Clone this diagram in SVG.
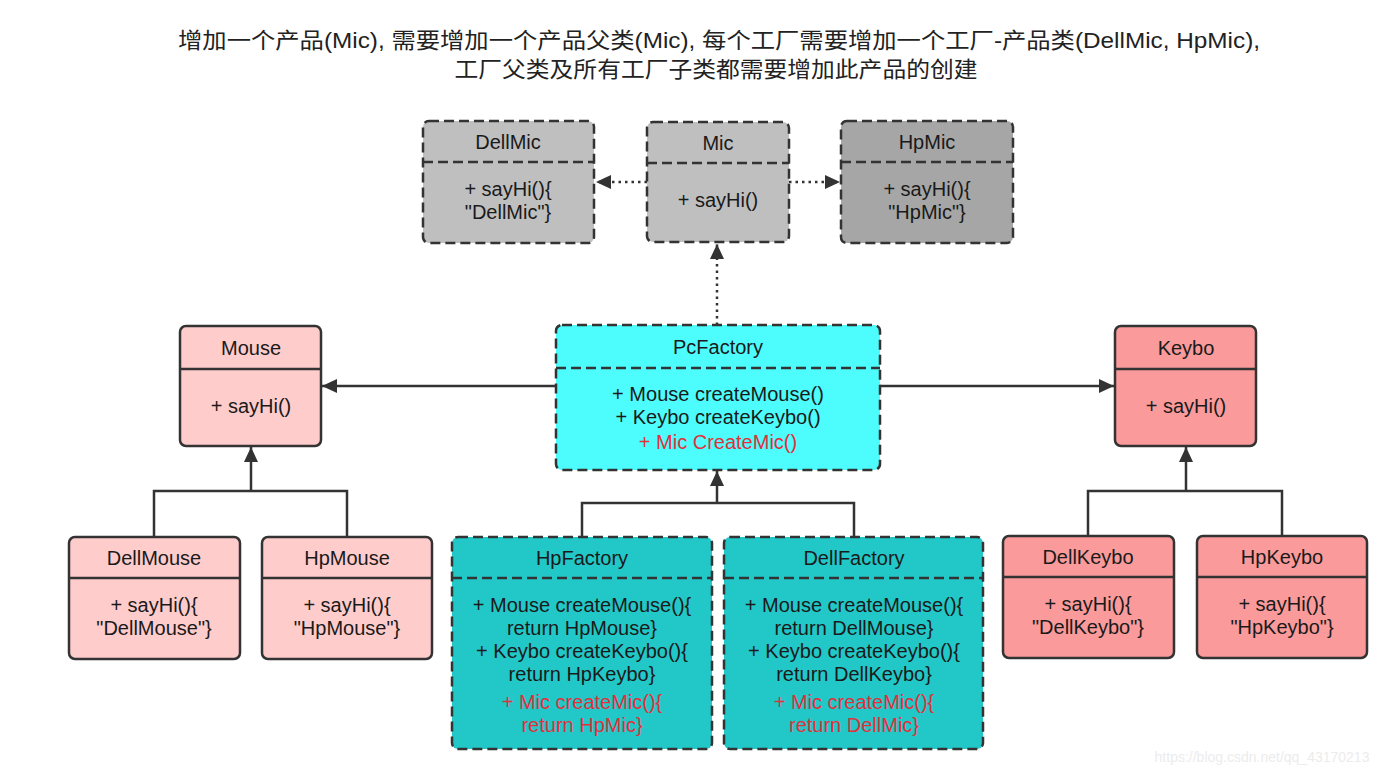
<svg xmlns="http://www.w3.org/2000/svg" width="1400" height="778" viewBox="0 0 1400 778">
<style>
text{font-family:"Liberation Sans","Noto Sans CJK SC",Arial,sans-serif;font-size:20px;fill:#1a1a1a;text-anchor:middle}
.title{font-size:22px;fill:#222}
.red{fill:#e0303b}
.box{stroke:#333;stroke-width:2.5}
.dash{stroke-dasharray:10 5}
.div{stroke:#333;stroke-width:2.5;fill:none}
.con{stroke:#333;stroke-width:2.5;fill:none}
.dot{stroke-dasharray:2.5 4}
.wm{font-size:14px;fill:#ececec}
</style>
<defs>
<marker id="tri" markerUnits="userSpaceOnUse" markerWidth="16" markerHeight="14" refX="15" refY="7" orient="auto">
<path d="M0,0 L15,7 L0,14 z" fill="#333"/>
</marker>
</defs>
<rect width="1400" height="778" fill="#fff"/>
<text class="title" x="719" y="48" textLength="1082" lengthAdjust="spacingAndGlyphs">增加一个产品(Mic), 需要增加一个产品父类(Mic), 每个工厂需要增加一个工厂-产品类(DellMic, HpMic),</text>
<text class="title" x="716" y="77" textLength="523" lengthAdjust="spacingAndGlyphs">工厂父类及所有工厂子类都需要增加此产品的创建</text>

<g id="connectors">
<line class="con dot" x1="647" y1="182" x2="596" y2="182" marker-end="url(#tri)"/>
<line class="con dot" x1="789" y1="182" x2="840" y2="182" marker-end="url(#tri)"/>
<line class="con dot" x1="717" y1="325" x2="717" y2="244" marker-end="url(#tri)"/>
<line class="con" x1="556" y1="386" x2="322" y2="386" marker-end="url(#tri)"/>
<line class="con" x1="880" y1="386" x2="1114" y2="386" marker-end="url(#tri)"/>
<polyline class="con" points="154,537 154,491 347,491 347,537"/>
<line class="con" x1="251" y1="491" x2="251" y2="447" marker-end="url(#tri)"/>
<polyline class="con" points="582,537 582,503 854,503 854,537"/>
<line class="con" x1="717" y1="503" x2="717" y2="471" marker-end="url(#tri)"/>
<polyline class="con" points="1088,536 1088,491 1282,491 1282,536"/>
<line class="con" x1="1186" y1="491" x2="1186" y2="447" marker-end="url(#tri)"/>
</g>

<g id="DellMic">
<rect class="box dash" x="423" y="121" width="171" height="122" rx="6" fill="#bfbfbf"/>
<line class="div dash" x1="423" y1="162" x2="594" y2="162"/>
<text x="508" y="149">DellMic</text>
<text x="508" y="196">+ sayHi(){</text>
<text x="508" y="219">"DellMic"}</text>
</g>
<g id="Mic">
<rect class="box dash" x="647" y="122" width="142" height="120" rx="6" fill="#bfbfbf"/>
<line class="div dash" x1="647" y1="163" x2="789" y2="163"/>
<text x="718" y="150">Mic</text>
<text x="718" y="207">+ sayHi()</text>
</g>
<g id="HpMic">
<rect class="box dash" x="841" y="121" width="172" height="122" rx="6" fill="#a6a6a6"/>
<line class="div dash" x1="841" y1="162" x2="1013" y2="162"/>
<text x="927" y="149">HpMic</text>
<text x="927" y="196">+ sayHi(){</text>
<text x="927" y="219">"HpMic"}</text>
</g>

<g id="PcFactory">
<rect class="box dash" x="556" y="325" width="324" height="145" rx="6" fill="#4dfcfc"/>
<line class="div dash" x1="556" y1="368" x2="880" y2="368"/>
<text x="718" y="354">PcFactory</text>
<text x="718" y="401">+ Mouse createMouse()</text>
<text x="718" y="424">+ Keybo createKeybo()</text>
<text class="red" x="718" y="449">+ Mic CreateMic()</text>
</g>

<g id="Mouse">
<rect class="box" x="180" y="326" width="141" height="120" rx="6" fill="#ffcccc"/>
<line class="div" x1="180" y1="369" x2="321" y2="369"/>
<text x="251" y="355">Mouse</text>
<text x="251" y="413">+ sayHi()</text>
</g>
<g id="Keybo">
<rect class="box" x="1115" y="326" width="141" height="120" rx="6" fill="#fa9a9a"/>
<line class="div" x1="1115" y1="369" x2="1256" y2="369"/>
<text x="1186" y="355">Keybo</text>
<text x="1186" y="413">+ sayHi()</text>
</g>

<g id="DellMouse">
<rect class="box" x="69" y="537" width="171" height="122" rx="6" fill="#ffcccc"/>
<line class="div" x1="69" y1="578" x2="240" y2="578"/>
<text x="154" y="565">DellMouse</text>
<text x="154" y="612">+ sayHi(){</text>
<text x="154" y="635">"DellMouse"}</text>
</g>
<g id="HpMouse">
<rect class="box" x="262" y="537" width="170" height="122" rx="6" fill="#ffcccc"/>
<line class="div" x1="262" y1="578" x2="432" y2="578"/>
<text x="347" y="565">HpMouse</text>
<text x="347" y="612">+ sayHi(){</text>
<text x="347" y="635">"HpMouse"}</text>
</g>

<g id="HpFactory">
<rect class="box dash" x="452" y="537" width="260" height="212" rx="6" fill="#22c8c8"/>
<line class="div dash" x1="452" y1="578" x2="712" y2="578"/>
<text x="582" y="565">HpFactory</text>
<text x="582" y="612">+ Mouse createMouse(){</text>
<text x="582" y="635">return HpMouse}</text>
<text x="582" y="658">+ Keybo createKeybo(){</text>
<text x="582" y="681">return HpKeybo}</text>
<text class="red" x="582" y="709">+ Mic createMic(){</text>
<text class="red" x="582" y="732">return HpMic}</text>
</g>
<g id="DellFactory">
<rect class="box dash" x="724" y="537" width="259" height="212" rx="6" fill="#22c8c8"/>
<line class="div dash" x1="724" y1="578" x2="983" y2="578"/>
<text x="854" y="565">DellFactory</text>
<text x="854" y="612">+ Mouse createMouse(){</text>
<text x="854" y="635">return DellMouse}</text>
<text x="854" y="658">+ Keybo createKeybo(){</text>
<text x="854" y="681">return DellKeybo}</text>
<text class="red" x="854" y="709">+ Mic createMic(){</text>
<text class="red" x="854" y="732">return DellMic}</text>
</g>

<g id="DellKeybo">
<rect class="box" x="1003" y="536" width="171" height="122" rx="6" fill="#fa9a9a"/>
<line class="div" x1="1003" y1="577" x2="1174" y2="577"/>
<text x="1088" y="564">DellKeybo</text>
<text x="1088" y="611">+ sayHi(){</text>
<text x="1088" y="634">"DellKeybo"}</text>
</g>
<g id="HpKeybo">
<rect class="box" x="1197" y="536" width="170" height="122" rx="6" fill="#fa9a9a"/>
<line class="div" x1="1197" y1="577" x2="1367" y2="577"/>
<text x="1282" y="564">HpKeybo</text>
<text x="1282" y="611">+ sayHi(){</text>
<text x="1282" y="634">"HpKeybo"}</text>
</g>

<text class="wm" x="1262" y="762">https://blog.csdn.net/qq_43170213</text>
</svg>
